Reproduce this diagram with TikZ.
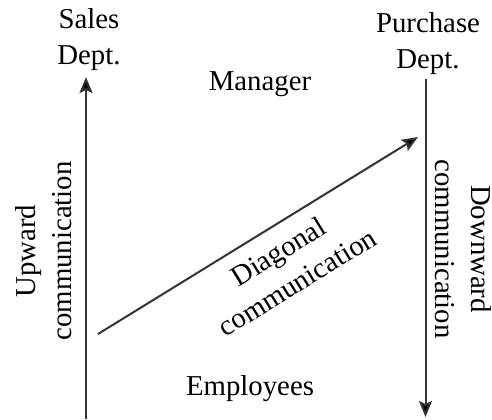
\documentclass[tikz,border=0pt]{standalone}
\usepackage{fontspec}
\setmainfont{Liberation Serif}
\usetikzlibrary{arrows.meta}
\begin{document}
\begin{tikzpicture}[x=0.5pt,y=-0.5pt,
  lbl/.style={font=\fontsize{14.4}{18}\selectfont, inner sep=0pt, align=center},
  arr/.style={draw=black!80, line width=1pt, -{Stealth[length=8pt,width=6.5pt,inset=1.5pt,fill=black]}}]
\useasboundingbox (0,0) rectangle (492,419);
% labels
\node[lbl] (sales) at (89,39.3) {\strut Sales\\\strut Dept.};
\node[lbl] (purch) at (428,42.8) {\strut Purchase\\\strut Dept.};
\node[lbl, anchor=base] (mgr) at (260,90) {Manager};
\node[lbl, anchor=base] (emp) at (250,395) {Employees};
\node[lbl, rotate=90] (up) at (46.3,251) {\strut Upward\\\strut communication};
\node[lbl, rotate=-90] (down) at (460.2,249) {\strut Downward\\\strut communication};
\node[lbl, rotate=31.6] (diag) at (289,269) {\strut Diagonal\\\strut communication};
% connector ends
\coordinate (ub) at (86,419);
\coordinate (ut) at (86,77);
\coordinate (dt) at (425.5,79);
\coordinate (db) at (425.5,417);
\coordinate (gs) at (98,334);
\coordinate (ge) at (418,137);
\draw[arr] (ub) -- (ut);
\draw[arr] (dt) -- (db);
\draw[arr] (gs) -- (ge);
\end{tikzpicture}
\end{document}
